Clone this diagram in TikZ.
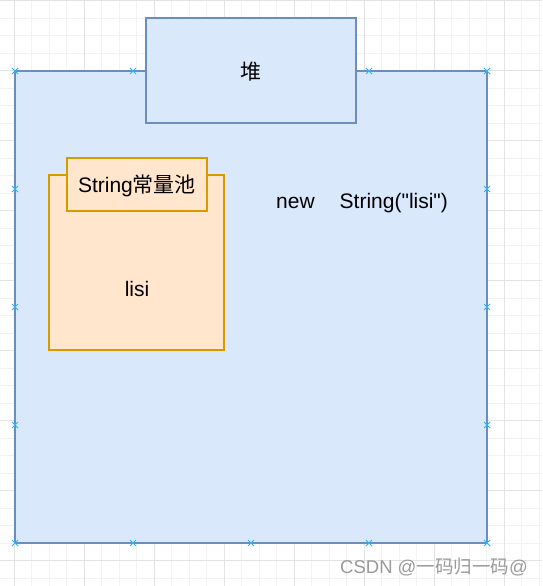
\documentclass[tikz,border=0pt]{standalone}
\usepackage{fontspec}
\setmainfont{Liberation Sans}
\newfontfamily\cjk{Noto Sans CJK SC}
\newcommand\straightdq{\XeTeXglyph\XeTeXcharglyph"22\relax}
\definecolor{bfill}{HTML}{DAE8FC}
\definecolor{bline}{HTML}{6C8EBF}
\definecolor{ofill}{HTML}{FFE6CC}
\definecolor{oline}{HTML}{D79B00}
\definecolor{gminor}{HTML}{F2F2F2}
\definecolor{gmajor}{HTML}{E3E3E3}
\definecolor{handle}{HTML}{29B6F2}
\definecolor{wm}{HTML}{9A9A9A}
\begin{document}
\begin{tikzpicture}[x=1pt,y=-1pt,
  box/.style={draw=bline,fill=bfill,line width=1.8pt,anchor=north west,inner sep=0pt,outer sep=0pt},
  obox/.style={draw=oline,fill=ofill,line width=1.8pt,anchor=north west,inner sep=0pt,outer sep=0pt},
  lbl/.style={font=\fontsize{21}{25}\selectfont,inner sep=0pt},
  hmark/.style={handle,line width=1pt}]
\useasboundingbox (0,0) rectangle (542,586);
\fill[white] (0,0) rectangle (542,586);
% grid
\foreach \i in {0,...,31} {
  \pgfmathsetmacro\xx{14+17.5*\i}
  \draw[gminor,line width=0.8pt] (\xx,0) -- (\xx,586);
}
\foreach \i in {0,...,34} {
  \pgfmathsetmacro\yy{0.5+17.5*\i}
  \draw[gminor,line width=0.8pt] (0,\yy) -- (542,\yy);
}
\foreach \i in {0,...,7} {
  \pgfmathsetmacro\xx{14+70*\i}
  \draw[gmajor,line width=0.8pt] (\xx,0) -- (\xx,586);
}
\foreach \i in {0,...,8} {
  \pgfmathsetmacro\yy{0.5+70*\i}
  \draw[gmajor,line width=0.8pt] (0,\yy) -- (542,\yy);
}
% shapes
\node[box,minimum width=472pt,minimum height=472pt] (heap) at (15,71) {};
\node[box,minimum width=210pt,minimum height=105pt] (top) at (146,18) {};
\node[lbl] (toplbl) at (251,72) {\cjk 堆};
\node[obox,minimum width=175pt,minimum height=175pt] (pool) at (49,175) {};
\node[obox,minimum width=140pt,minimum height=53pt] (pooltitle) at (67,158) {};
\node[lbl] (pooltxt) at (137,185.5) {String{\cjk 常量池}};
\node[lbl] (lisi) at (137,289) {lisi};
\node[lbl,anchor=west] (newtxt) at (276,203.5) {new\hspace{25pt}String(\straightdq lisi\straightdq)};
% selection handles
\foreach \p in {(15,71),(133,71),(369,71),(487,71),
                (15,189),(15,307),(15,425),(15,543),
                (487,189),(487,307),(487,425),(487,543),
                (133,543),(251,543),(369,543)} {
  \draw[hmark] \p ++(-3,-3) -- ++(6,6);
  \draw[hmark] \p ++(-3,3) -- ++(6,-6);
}
% watermark
\node[anchor=west,inner sep=0pt,text=wm,font=\fontsize{18.5}{22}\selectfont] (wmark) at (340,567) {CSDN @{\cjk 一码归一码}@};
\end{tikzpicture}
\end{document}
